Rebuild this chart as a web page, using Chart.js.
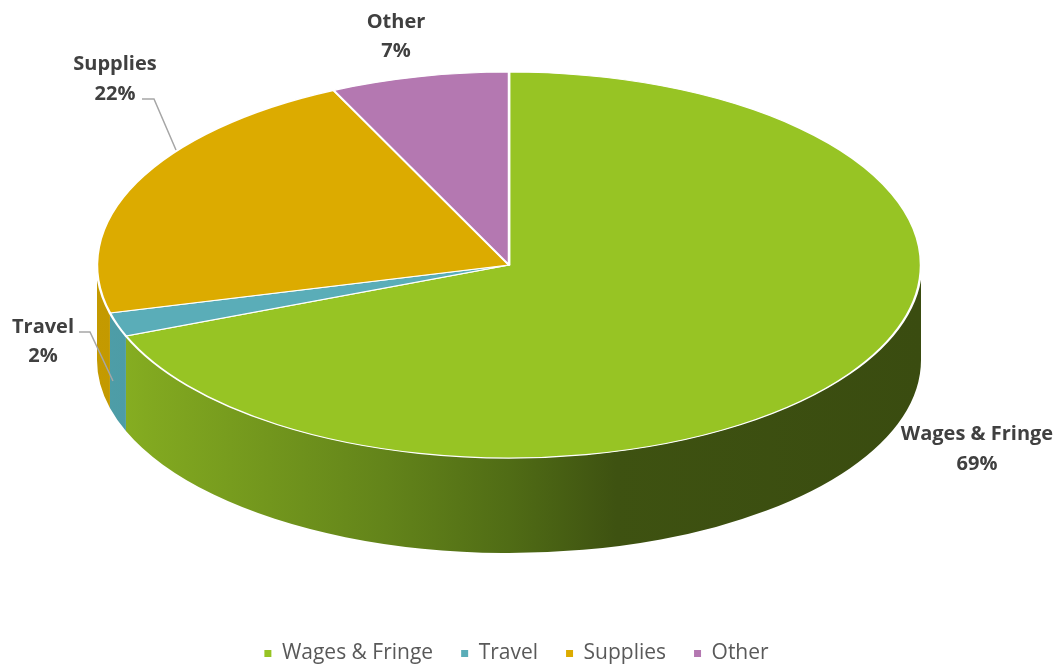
<!DOCTYPE html>
<html>
<head>
<meta charset="utf-8">
<script src="https://cdn.jsdelivr.net/npm/chart.js@4.4.1/dist/chart.umd.min.js"></script>
<style>
  html, body { margin: 0; padding: 0; background: #ffffff; }
  #wrap { width: 1061px; height: 664px; position: relative; }
</style>
</head>
<body>
<div id="wrap"><canvas id="c"></canvas></div>
<script>
// ---- data ----
const categories = ['Wages & Fringe', 'Travel', 'Supplies', 'Other'];
const shares = [69, 2, 22, 7];

// ---- styles ----
const sliceColors = ['#97c424', '#5aadb8', '#dcab00', '#b478b1'];
const sideStops = [
  [[0, '#8ab322'], [0.06, '#82a920'], [0.35, '#63841a'], [0.5, '#506c15'], [0.63, '#3e5211'], [1, '#3a4c10']],
  [[0, '#4e9ea8'], [1, '#2f6a72']],
  [[0, '#c49a00'], [1, '#8a6c00']],
  [[0, '#9e6a9b'], [1, '#6e4a6c']]
];

// ---- layout ----
const GEO = { cx: 509, cy: 265, rx: 412, ry: 193, depth: 95 };
const labelLayout = [
  { x: 977, y1: 440, y2: 470 },
  { x: 43, y1: 333, y2: 362 },
  { x: 115, y1: 70, y2: 100 },
  { x: 396, y1: 28, y2: 57 }
];
const leaders = [
  null,
  [[79, 332], [90, 332], [113, 381]],
  [[142, 99], [154, 99], [176, 150]],
  null
];

function sideGradient(ctx, i) {
  const g = ctx.createLinearGradient(GEO.cx - GEO.rx, 0, GEO.cx + GEO.rx, 0);
  sideStops[i].forEach(s => g.addColorStop(s[0], s[1]));
  return g;
}

const pie3d = {
  id: 'pie3d',
  beforeDatasetsDraw(chart) {
    const ctx = chart.ctx;
    const meta = chart.getDatasetMeta(0);
    const p0 = meta.data[0].getProps(['x', 'y', 'outerRadius'], true);
    const r = p0.outerRadius;
    const k = GEO.ry / r;
    // side walls (front half only)
    meta.data.forEach((arc, i) => {
      const { startAngle, endAngle } = arc.getProps(['startAngle', 'endAngle'], true);
      [0, 2 * Math.PI, -2 * Math.PI].forEach(off => {
        const a0 = Math.max(startAngle + off, 0);
        const a1 = Math.min(endAngle + off, Math.PI);
        if (a1 > a0) {
          ctx.save();
          ctx.beginPath();
          ctx.ellipse(GEO.cx, GEO.cy, r, GEO.ry, 0, a0, a1, false);
          ctx.lineTo(GEO.cx + r * Math.cos(a1), GEO.cy + GEO.depth + GEO.ry * Math.sin(a1));
          ctx.ellipse(GEO.cx, GEO.cy + GEO.depth, r, GEO.ry, 0, a1, a0, true);
          ctx.closePath();
          ctx.fillStyle = sideGradient(ctx, i);
          ctx.fill();
          ctx.restore();
        }
      });
    });
    // squash the top face
    ctx.save();
    ctx.translate(GEO.cx, GEO.cy);
    ctx.scale(1, k);
    ctx.translate(-p0.x, -p0.y);
  },
  afterDatasetsDraw(chart) {
    chart.ctx.restore();
  }
};

const dataLabels = {
  id: 'dataLabels',
  afterDraw(chart) {
    const ctx = chart.ctx;
    ctx.save();
    ctx.strokeStyle = '#a6a6a6';
    ctx.lineWidth = 1.5;
    leaders.forEach(pts => {
      if (!pts) return;
      ctx.beginPath();
      ctx.moveTo(pts[0][0], pts[0][1]);
      for (let j = 1; j < pts.length; j++) ctx.lineTo(pts[j][0], pts[j][1]);
      ctx.stroke();
    });
    ctx.fillStyle = '#404040';
    ctx.font = 'bold 20px "Open Sans"';
    ctx.textAlign = 'center';
    ctx.textBaseline = 'alphabetic';
    categories.forEach((c, i) => {
      const L = labelLayout[i];
      ctx.fillText(c, L.x, L.y1);
      ctx.fillText(shares[i] + '%', L.x, L.y2);
    });
    ctx.restore();
  }
};

new Chart(document.getElementById('c'), {
  type: 'pie',
  data: {
    labels: categories,
    datasets: [{
      data: shares,
      backgroundColor: sliceColors,
      borderColor: '#ffffff',
      borderWidth: 2.5,
      borderJoinStyle: 'round',
      radius: GEO.rx
    }]
  },
  options: {
    responsive: true,
    maintainAspectRatio: false,
    animation: false,
    events: [],
    layout: { padding: { left: 0, right: 28, top: 0, bottom: -10 } },
    plugins: {
      tooltip: { enabled: false },
      legend: {
        position: 'bottom',
        labels: {
          boxWidth: 7,
          boxHeight: 7,
          padding: 28,
          color: '#595959',
          font: { family: '"Open Sans"', size: 21 },
          generateLabels(chart) {
            const items = Chart.overrides.pie.plugins.legend.labels.generateLabels(chart);
            items.forEach(it => { it.lineWidth = 0; it.strokeStyle = 'rgba(0,0,0,0)'; });
            return items;
          }
        }
      }
    }
  },
  plugins: [pie3d, dataLabels]
});
</script>
</body>
</html>
